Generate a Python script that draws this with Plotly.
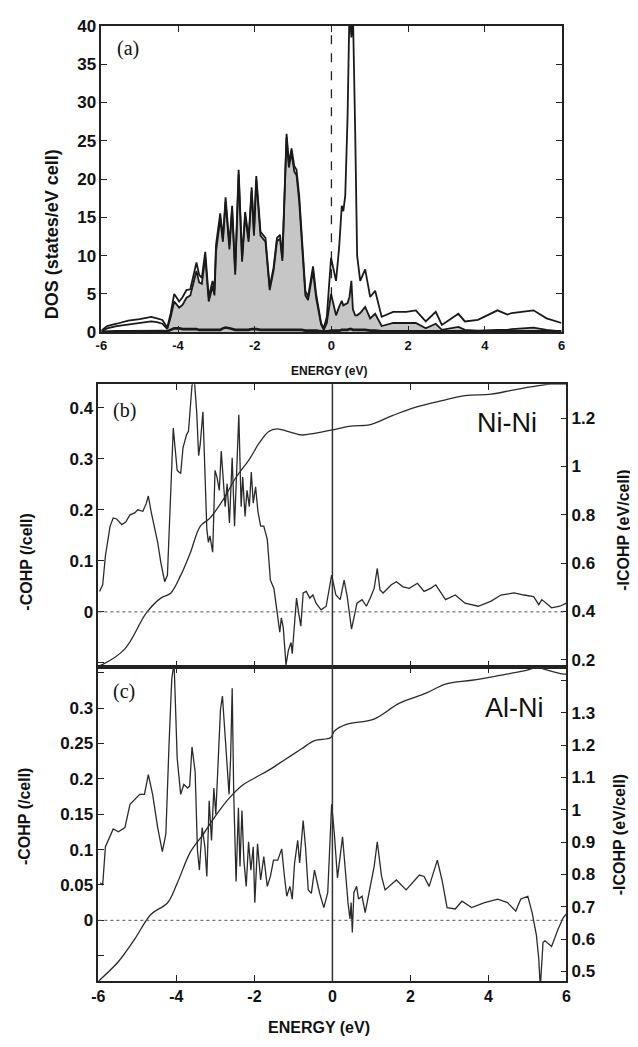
import plotly.graph_objects as go

# ---------------- Panel (a): DOS ----------------
dos_energy = [-6.00, -5.85, -5.60, -5.30, -5.00, -4.70, -4.55, -4.41, -4.28, -4.19,
              -4.10, -3.97, -3.88, -3.78, -3.68, -3.60, -3.52, -3.45, -3.38, -3.29,
              -3.20, -3.10, -3.05, -3.01, -2.90, -2.83, -2.76, -2.66, -2.59, -2.51,
              -2.42, -2.33, -2.25, -2.16, -2.08, -2.02, -1.96, -1.85, -1.72, -1.61,
              -1.51, -1.42, -1.34, -1.28, -1.17, -1.11, -1.04, -0.97, -0.91, -0.84,
              -0.78, -0.68, -0.61, -0.48, -0.40, -0.27, -0.20, -0.12, -0.01, 0.12,
              0.20, 0.27, 0.31, 0.36, 0.42, 0.47, 0.52, 0.56, 0.62, 0.67,
              0.75, 0.88, 1.01, 1.14, 1.31, 1.61, 1.95, 2.20, 2.46, 2.72,
              2.88, 3.31, 3.48, 3.82, 4.33, 4.59, 4.70, 5.27, 5.61, 6.00]
dos_total = [0.2, 0.8, 1.1, 1.5, 1.7, 2.0, 1.8, 1.6, 0.6, 2.5,
             5.0, 4.0, 4.6, 5.5, 5.6, 7.5, 9.1, 7.5, 7.1, 10.5,
             4.6, 6.7, 5.5, 11.4, 15.5, 12.3, 17.6, 11.4, 16.5, 8.0,
             21.2, 9.7, 15.7, 12.3, 18.9, 13.1, 20.4, 13.1, 12.3, 5.9,
             8.4, 12.3, 12.7, 9.7, 25.9, 22.1, 24.0, 21.7, 21.2, 17.8,
             13.5, 5.4, 4.6, 8.6, 5.0, 1.2, 0.5, 2.0, 9.7, 6.7,
             11.0, 16.5, 15.8, 17.8, 28.0, 42.0, 38.5, 42.0, 26.0, 10.0,
             6.7, 8.2, 4.6, 5.4, 2.0, 2.65, 2.65, 2.85, 1.4, 2.65,
             0.94, 2.4, 1.4, 1.6, 2.85, 2.3, 2.5, 2.85, 1.8, 1.2]
dos_partial = [0.1, 0.5, 0.8, 1.0, 1.2, 1.4, 1.3, 1.1, 0.4, 2.0,
               4.0, 3.2, 3.6, 4.5, 4.8, 6.5, 8.0, 6.5, 6.3, 9.8,
               4.0, 6.0, 4.8, 10.5, 14.8, 11.8, 17.0, 10.8, 16.0, 7.5,
               20.6, 9.2, 15.2, 11.8, 18.4, 12.6, 19.9, 12.6, 11.8, 5.5,
               8.0, 11.9, 12.2, 9.3, 25.4, 21.5, 23.4, 21.0, 20.5, 17.0,
               12.8, 4.8, 4.2, 8.0, 4.5, 1.0, 0.3, 1.2, 5.0, 2.2,
               3.3, 4.1, 3.5, 3.6, 3.8, 4.6, 6.7, 3.0, 2.2, 2.2,
               2.5, 3.3, 1.8, 2.4, 0.8, 1.2, 1.2, 1.2, 0.5, 1.1,
               0.3, 0.7, 0.3, 0.2, 0.3, 0.3, 0.4, 0.6, 0.3, 0.1]
dos_al = [0.05, 0.1, 0.1, 0.1, 0.15, 0.15, 0.15, 0.15, 0.1, 0.3,
          0.5, 0.5, 0.4, 0.4, 0.4, 0.4, 0.4, 0.3, 0.3, 0.3,
          0.3, 0.3, 0.3, 0.3, 0.3, 0.5, 0.6, 0.5, 0.4, 0.3,
          0.3, 0.3, 0.3, 0.3, 0.4, 0.4, 0.4, 0.3, 0.3, 0.3,
          0.3, 0.3, 0.3, 0.3, 0.3, 0.3, 0.3, 0.3, 0.3, 0.3,
          0.3, 0.2, 0.2, 0.2, 0.2, 0.1, 0.1, 0.1, 0.2, 0.2,
          0.2, 0.3, 0.3, 0.3, 0.3, 0.4, 0.4, 0.3, 0.3, 0.3,
          0.3, 0.3, 0.2, 0.2, 0.1, 0.1, 0.1, 0.1, 0.1, 0.1,
          0.1, 0.1, 0.1, 0.1, 0.1, 0.1, 0.1, 0.1, 0.1, 0.1]
fill_start = -4.28

# ---------------- Panel (b): Ni-Ni COHP ----------------
nini_energy = [-5.97, -5.89, -5.82, -5.70, -5.62, -5.53, -5.40, -5.30, -5.19, -5.07,
               -4.99, -4.86, -4.77, -4.72, -4.65, -4.48, -4.40, -4.30, -4.23, -4.15,
               -4.08, -3.98, -3.89, -3.83, -3.74, -3.69, -3.64, -3.60, -3.54, -3.48,
               -3.43, -3.39, -3.32, -3.27, -3.22, -3.18, -3.14, -3.07, -3.01, -2.96,
               -2.90, -2.85, -2.81, -2.75, -2.70, -2.64, -2.57, -2.51, -2.47, -2.40,
               -2.34, -2.30, -2.24, -2.19, -2.13, -2.08, -2.03, -1.97, -1.91, -1.84,
               -1.76, -1.67, -1.59, -1.50, -1.42, -1.35, -1.31, -1.26, -1.19, -1.13,
               -1.06, -1.03, -0.96, -0.92, -0.86, -0.81, -0.75, -0.67, -0.58, -0.50,
               -0.42, -0.29, -0.16, -0.02, 0.09, 0.20, 0.30, 0.38, 0.49, 0.57,
               0.63, 0.76, 0.87, 0.97, 1.07, 1.15, 1.22, 1.30, 1.51, 1.64,
               1.81, 1.97, 2.18, 2.35, 2.52, 2.65, 2.90, 3.15, 3.40, 3.74,
               4.07, 4.32, 4.66, 4.91, 5.16, 5.29, 5.37, 5.62, 5.83, 6.00]
nini_cohp = [0.040, 0.053, 0.110, 0.168, 0.184, 0.182, 0.171, 0.176, 0.190, 0.194,
             0.200, 0.197, 0.213, 0.227, 0.197, 0.136, 0.097, 0.059, 0.072, 0.238,
             0.360, 0.277, 0.271, 0.322, 0.347, 0.354, 0.415, 0.444, 0.455, 0.392,
             0.306, 0.328, 0.392, 0.290, 0.162, 0.136, 0.149, 0.117, 0.277, 0.264,
             0.238, 0.315, 0.277, 0.206, 0.251, 0.174, 0.302, 0.168, 0.245, 0.386,
             0.206, 0.264, 0.187, 0.238, 0.206, 0.274, 0.213, 0.245, 0.197, 0.168,
             0.168, 0.142, 0.062, 0.046, 0.001, -0.040, -0.012, -0.031, -0.104, -0.076,
             -0.060, -0.082, -0.012, 0.027, -0.005, -0.028, 0.037, 0.040, 0.027, 0.033,
             0.017, 0.004, 0.011, 0.072, 0.033, 0.024, 0.062, 0.030, -0.034, -0.005,
             0.017, 0.024, 0.011, 0.027, 0.046, 0.085, 0.043, 0.037, 0.053, 0.059,
             0.049, 0.046, 0.056, 0.040, 0.046, 0.053, 0.024, 0.033, 0.017, 0.011,
             0.021, 0.033, 0.037, 0.033, 0.030, 0.014, 0.024, 0.008, 0.011, 0.017]
nini_icohp_energy = [-6.00, -5.90, -5.32, -4.77, -4.40, -4.15, -3.89, -3.64, -3.39, -3.14,
                     -2.81, -2.47, -2.13, -1.88, -1.63, -1.42, -1.13, -0.79, -0.46, 0.00,
                     0.47, 0.97, 1.55, 2.14, 2.81, 3.40, 4.07, 4.66, 5.25, 5.58, 6.00]
nini_icohp = [0.175, 0.180, 0.245, 0.394, 0.455, 0.475, 0.549, 0.644, 0.752, 0.786,
              0.860, 0.955, 1.029, 1.096, 1.144, 1.155, 1.144, 1.130, 1.137, 1.151,
              1.167, 1.173, 1.211, 1.245, 1.272, 1.293, 1.299, 1.317, 1.333, 1.340, 1.340]

# ---------------- Panel (c): Al-Ni COHP ----------------
alni_energy = [-5.95, -5.89, -5.82, -5.74, -5.62, -5.49, -5.32, -5.19, -5.07, -4.94,
               -4.82, -4.72, -4.61, -4.48, -4.36, -4.27, -4.19, -4.12, -4.06, -4.02,
               -3.98, -3.89, -3.81, -3.71, -3.66, -3.60, -3.52, -3.46, -3.41, -3.34,
               -3.27, -3.22, -3.16, -3.10, -3.04, -2.99, -2.93, -2.87, -2.82, -2.76,
               -2.70, -2.65, -2.61, -2.57, -2.53, -2.47, -2.41, -2.37, -2.32, -2.27,
               -2.21, -2.15, -2.09, -2.03, -1.99, -1.92, -1.84, -1.76, -1.67, -1.59,
               -1.51, -1.40, -1.30, -1.23, -1.17, -1.09, -1.03, -0.97, -0.89, -0.84,
               -0.75, -0.69, -0.62, -0.54, -0.46, -0.33, -0.22, -0.12, -0.02, 0.05,
               0.13, 0.26, 0.34, 0.40, 0.45, 0.48, 0.51, 0.55, 0.62, 0.67,
               0.76, 0.84, 0.97, 1.07, 1.15, 1.26, 1.35, 1.64, 1.89, 2.23,
               2.35, 2.48, 2.69, 2.81, 2.94, 3.15, 3.32, 3.57, 3.90, 4.24,
               4.49, 4.70, 4.83, 5.01, 5.12, 5.23, 5.29, 5.33, 5.40, 5.45,
               5.62, 5.79, 5.92, 6.00]
alni_cohp = [0.053, 0.050, 0.104, 0.115, 0.129, 0.125, 0.131, 0.164, 0.171, 0.178,
             0.178, 0.206, 0.178, 0.131, 0.097, 0.122, 0.247, 0.340, 0.365, 0.303,
             0.229, 0.178, 0.192, 0.187, 0.190, 0.245, 0.210, 0.099, 0.071, 0.131,
             0.104, 0.062, 0.169, 0.113, 0.187, 0.150, 0.229, 0.298, 0.317, 0.261,
             0.219, 0.178, 0.230, 0.328, 0.178, 0.055, 0.159, 0.076, 0.155, 0.085,
             0.048, 0.111, 0.071, 0.104, 0.025, 0.108, 0.057, 0.090, 0.048, 0.062,
             0.085, 0.085, 0.101, 0.062, 0.034, 0.048, 0.030, 0.081, 0.113, 0.081,
             0.141, 0.104, 0.043, 0.038, 0.071, 0.039, 0.018, 0.039, 0.164, 0.122,
             0.060, 0.118, 0.062, 0.025, 0.002, 0.025, -0.017, 0.039, 0.048, 0.030,
             0.034, 0.011, 0.048, 0.076, 0.111, 0.062, 0.043, 0.057, 0.043, 0.064,
             0.062, 0.048, 0.085, 0.057, 0.018, 0.016, 0.027, 0.018, 0.025, 0.030,
             0.025, 0.013, 0.030, 0.034, 0.011, -0.021, -0.054, -0.095, -0.031, -0.029,
             -0.037, -0.012, 0.004, 0.009]
alni_icohp_energy = [-6.00, -5.49, -5.07, -4.65, -4.23, -3.98, -3.64, -3.31, -2.97, -2.64,
                     -2.30, -1.97, -1.63, -1.21, -0.79, -0.46, -0.04, 0.05, 0.38, 1.05,
                     1.72, 2.40, 2.90, 3.57, 4.24, 4.91, 5.25, 5.58, 5.92, 6.00]
alni_icohp = [0.470, 0.530, 0.600, 0.677, 0.712, 0.773, 0.870, 0.925, 0.986, 1.037,
              1.077, 1.100, 1.123, 1.156, 1.189, 1.214, 1.224, 1.244, 1.265, 1.280,
              1.330, 1.361, 1.389, 1.401, 1.415, 1.430, 1.440, 1.430, 1.420, 1.420]

# ---------------- Ticks ----------------
energy_ticks = [-6, -4, -2, 0, 2, 4, 6]
energy_labels = ["-6", "-4", "-2", "0", "2", "4", "6"]
dos_ticks = [0, 5, 10, 15, 20, 25, 30, 35, 40]
dos_labels = ["0", "5", "10", "15", "20", "25", "30", "35", "40"]
b_left_ticks = [-0.1, 0, 0.1, 0.2, 0.3, 0.4]
b_left_labels = ["", "0", "0.1", "0.2", "0.3", "0.4"]
b_right_ticks = [0.2, 0.4, 0.6, 0.8, 1.0, 1.2]
b_right_labels = ["0.2", "0.4", "0.6", "0.8", "1", "1.2"]
c_left_ticks = [-0.05, 0, 0.05, 0.1, 0.15, 0.2, 0.25, 0.3, 0.35]
c_left_labels = ["", "0", "0.05", "0.1", "0.15", "0.2", "0.25", "0.3", ""]
c_right_ticks = [0.5, 0.6, 0.7, 0.8, 0.9, 1.0, 1.1, 1.2, 1.3, 1.4]
c_right_labels = ["0.5", "0.6", "0.7", "0.8", "0.9", "1", "1.1", "1.2", "1.3", ""]

# ---------------- Figure ----------------
W, H = 638, 1047
OFF = 8  # page body margin offset
def px_x(p):
    return (p - OFF) / W
def px_y(p):
    return (H - (p - OFF)) / H

LINE = "#1a1a1a"
SANS = "Liberation Sans, Arial, sans-serif"
SERIF = "Liberation Serif, Times New Roman, serif"
def bfont(size):
    return dict(family=SANS, size=size, color="#111", weight="bold")

fig = go.Figure()

fill_x = [e for e in dos_energy if e >= fill_start]
fill_y = [p for e, p in zip(dos_energy, dos_partial) if e >= fill_start]

fig.add_trace(go.Scatter(x=fill_x, y=fill_y, mode="lines", fill="tozeroy",
                         fillcolor="#c6c6c6", line=dict(width=0, color="#c6c6c6"),
                         xaxis="x", yaxis="y", showlegend=False, hoverinfo="skip"))
fig.add_trace(go.Scatter(x=dos_energy, y=dos_partial, mode="lines",
                         line=dict(color=LINE, width=1.8), xaxis="x", yaxis="y", showlegend=False))
fig.add_trace(go.Scatter(x=dos_energy, y=dos_total, mode="lines",
                         line=dict(color=LINE, width=1.8), xaxis="x", yaxis="y", showlegend=False))
fig.add_trace(go.Scatter(x=dos_energy, y=dos_al, mode="lines",
                         line=dict(color=LINE, width=2.6), xaxis="x", yaxis="y", showlegend=False))

fig.add_trace(go.Scatter(x=nini_energy, y=nini_cohp, mode="lines",
                         line=dict(color="#2a2a2a", width=1.3), xaxis="x2", yaxis="y2", showlegend=False))
fig.add_trace(go.Scatter(x=nini_icohp_energy, y=nini_icohp, mode="lines", line_shape="spline",
                         line=dict(color="#2a2a2a", width=1.3), xaxis="x2", yaxis="y3", showlegend=False))

fig.add_trace(go.Scatter(x=alni_energy, y=alni_cohp, mode="lines",
                         line=dict(color="#2a2a2a", width=1.3), xaxis="x3", yaxis="y4", showlegend=False))
fig.add_trace(go.Scatter(x=alni_icohp_energy, y=alni_icohp, mode="lines", line_shape="spline",
                         line=dict(color="#2a2a2a", width=1.3), xaxis="x3", yaxis="y5", showlegend=False))

dom_a_x = [px_x(96), px_x(565)]
dom_bc_x = [px_x(93), px_x(570)]
dom_a_y = [px_y(329), px_y(17)]
dom_b_y = [px_y(670), px_y(382)]
dom_c_y = [px_y(990), px_y(670)]

def axis_common(size):
    return dict(showline=True, linecolor="#222", linewidth=1.5, ticks="inside",
                ticklen=6, tickwidth=1.3, tickcolor="#222", showgrid=False,
                zeroline=False, tickfont=bfont(size), ticklabeloverflow="allow")

fig.update_layout(
    width=W, height=H, margin=dict(l=0, r=0, t=0, b=0),
    paper_bgcolor="white", plot_bgcolor="white", showlegend=False,
    xaxis=dict(domain=dom_a_x, anchor="y", range=[-6, 6], tickmode="array",
               tickvals=energy_ticks, ticktext=energy_labels, mirror="ticks",
               **axis_common(13)),
    yaxis=dict(domain=dom_a_y, anchor="x", range=[0, 40], tickmode="array",
               tickvals=dos_ticks, ticktext=dos_labels, mirror="ticks", **axis_common(17)),
    xaxis2=dict(domain=dom_bc_x, anchor="y2", range=[-6, 6], tickmode="array",
                tickvals=energy_ticks, ticktext=energy_labels, showticklabels=False,
                mirror="ticks", **axis_common(16)),
    yaxis2=dict(domain=dom_b_y, anchor="x2", range=[-0.108, 0.446], tickmode="array",
                tickvals=b_left_ticks, ticktext=b_left_labels, **axis_common(17)),
    yaxis3=dict(domain=dom_b_y, anchor="x2", overlaying="y2", side="right",
                range=[0.17, 1.34], tickmode="array",
                tickvals=b_right_ticks, ticktext=b_right_labels, **axis_common(17)),
    xaxis3=dict(domain=dom_bc_x, anchor="y4", range=[-6, 6], tickmode="array",
                tickvals=energy_ticks, ticktext=energy_labels, mirror="ticks",
                **axis_common(16)),
    yaxis4=dict(domain=dom_c_y, anchor="x3", range=[-0.086, 0.358], tickmode="array",
                tickvals=c_left_ticks, ticktext=c_left_labels, **axis_common(17)),
    yaxis5=dict(domain=dom_c_y, anchor="x3", overlaying="y4", side="right",
                range=[0.47, 1.442], tickmode="array",
                tickvals=c_right_ticks, ticktext=c_right_labels, **axis_common(17)),
)

shapes = [
    dict(type="line", xref="x", yref="y domain", x0=0, x1=0, y0=0, y1=1,
         line=dict(color="#222", width=1.3, dash="dash"), layer="below"),
    dict(type="line", xref="x2 domain", yref="y2", x0=0, x1=1, y0=0, y1=0,
         line=dict(color="#555", width=1, dash="dot")),
    dict(type="line", xref="x3 domain", yref="y4", x0=0, x1=1, y0=0, y1=0,
         line=dict(color="#555", width=1, dash="dot")),
    dict(type="line", xref="x2", yref="paper", x0=0, x1=0, y0=dom_c_y[0], y1=dom_b_y[1],
         line=dict(color="#333", width=1.5)),
]
fig.update_layout(shapes=shapes)

def ann(text, x, y, size, family=SANS, weight="bold", angle=0):
    return dict(text=text, x=px_x(x), y=px_y(y), xref="paper", yref="paper",
                xanchor="center", yanchor="middle", showarrow=False, textangle=angle,
                font=dict(family=family, size=size, color="#111", weight=weight))

fig.update_layout(annotations=[
    ann("(a)", 123.5, 40, 20, SERIF, "normal"),
    ann("(b)", 120, 409, 20, SERIF, "normal"),
    ann("(c)", 119, 695, 20, SERIF, "normal"),
    ann("Ni-Ni", 509, 421, 27, SANS, "normal"),
    ann("Al-Ni", 517.5, 712, 27, SANS, "normal"),
    ann("ENERGY (eV)", 328, 369, 12),
    ann("ENERGY (eV)", 318, 1037, 16),
    ann("DOS (states/eV cell)", 46, 229, 18, angle=-90),
    ann("-COHP (/cell)", 20, 563, 16, angle=-90),
    ann("-COHP (/cell)", 17, 822, 16, angle=-90),
    ann("-ICOHP (eV/cell)", 628, 530, 16, angle=-90),
    ann("-ICOHP (eV/cell)", 624, 840, 16, angle=-90),
])

fig.write_html("out.html")
